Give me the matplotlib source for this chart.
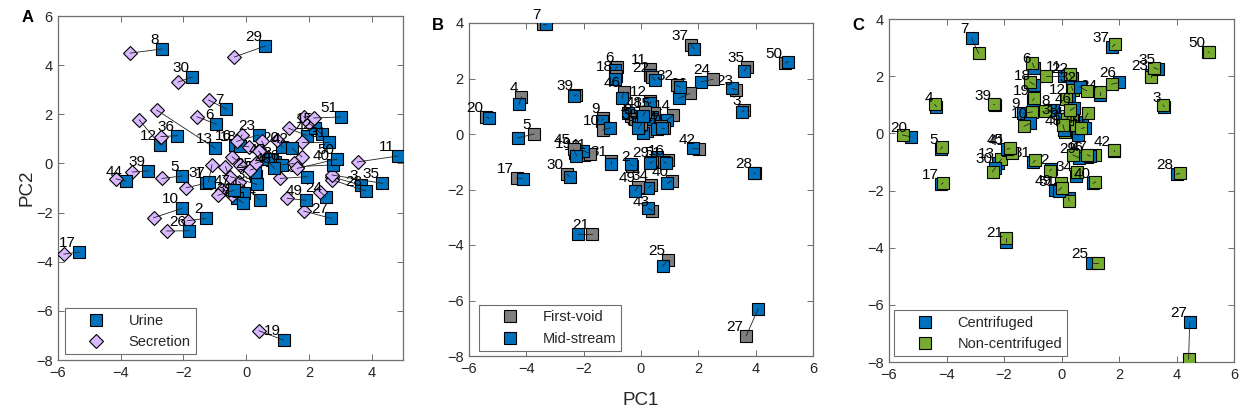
import matplotlib
matplotlib.use("Agg")
import matplotlib.pyplot as plt
from matplotlib.lines import Line2D

plt.rcParams['font.family'] = ['Liberation Sans', 'DejaVu Sans']

sample_ids = list(range(1, 52))

# ---------------- Panel A: Urine vs Secretion ----------------
A_urine_x = [-1.27, -1.28, 3.65, 1.95, -2.04, -0.95, -0.63, -2.68, 0.30, -2.05,
             4.83, -2.74, -0.98, 0.45, 2.21, -0.35, -5.33, -0.20, 1.19, 1.15,
             -0.08, 2.42, 0.40, 2.53, 0.29, -1.81, 2.72, 3.81, 0.61, -1.72,
             2.64, -0.30, 0.33, 1.94, 4.34, -2.19, -1.20, 0.93, -3.12, 2.76,
             0.82, 1.46, -0.10, -3.83, 0.70, 1.15, -0.40, 0.90, 1.90, 2.90, 3.01]
A_urine_y = [-0.80, -2.24, -0.88, 1.12, -0.51, 1.60, 2.21, 4.66, -0.50, -1.83,
             0.30, 0.75, 0.61, -1.49, 1.43, 0.75, -3.61, 0.70, -7.19, 0.68,
             -1.22, 1.19, 1.16, -1.35, -0.40, -2.74, -2.24, -1.12, 4.78, 3.52,
             0.88, -1.40, -0.85, -0.54, -0.81, 1.13, -0.74, 0.07, -0.30, -0.06,
             0.14, 0.61, -1.60, -0.72, 0.20, -0.06, -1.10, -0.20, -1.50, 0.18, 1.89]
A_secr_x = [-1.91, -1.87, 2.74, 1.36, -2.68, -1.57, -1.20, -3.70, -0.45, -2.95,
            3.55, -3.41, -2.85, -0.24, 1.84, -0.13, -5.81, 0.08, 0.41, 0.99,
            -0.77, 2.00, -0.30, 2.35, -0.19, -2.53, 1.84, 2.74, -0.38, -2.17,
            1.78, -0.66, -0.50, 1.09, 2.74, -2.72, -1.09, 0.13, -3.63, 1.62,
            0.50, 1.78, -0.45, -4.15, 0.30, 1.52, -0.90, 0.40, 1.31, 1.63, 2.15]
A_secr_y = [-0.99, -2.33, -0.55, 1.43, -0.61, 1.90, 2.58, 4.49, 0.27, -2.21,
            0.06, 1.77, 2.17, -0.74, 1.90, 1.16, -3.69, 0.68, -6.81, 0.95,
            -1.08, 1.65, 0.90, -1.15, -0.06, -2.75, -1.94, -0.67, 4.33, 3.31,
            0.88, -0.13, -0.54, -0.61, -0.47, 1.09, -0.06, -0.27, -0.35, -0.13,
            0.90, 0.27, -1.29, -0.63, 0.00, 0.00, -1.30, 0.50, -1.42, -0.20, 1.85]

# ---------------- Panel B: First-void vs Mid-stream ----------------
B_first_x = [-0.35, -0.30, 3.60, -4.17, -3.73, -0.85, -3.41, -0.20, -1.32, -1.34,
             0.32, 0.32, -2.00, 1.13, 0.45, 0.95, -4.34, -0.87, -2.30, -5.39,
             -1.71, 0.40, 3.33, 2.51, 0.94, 1.71, 3.67, 3.99, 0.40, -2.59,
             -1.06, 1.25, 0.50, 0.35, 3.70, 0.20, 1.74, 0.00, -2.25, 1.08,
             -1.78, 2.01, 0.40, 0.70, -2.35, -0.61, 0.80, 0.15, -0.10, 5.04, 0.80]
B_first_y = [0.65, -1.15, 0.86, 1.34, 0.00, 2.42, 3.98, 0.55, 0.56, 0.14,
             2.36, 1.20, -0.75, 0.68, 0.75, -0.95, -1.58, 2.08, -0.70, 0.62,
             -3.60, 2.05, 1.60, 1.97, -4.54, 1.46, -7.27, -1.42, -1.00, -1.45,
             -0.96, 1.76, 0.30, -1.84, 2.42, 0.10, 3.20, 0.35, 1.42, -1.68,
             -0.72, -0.54, -2.77, 0.30, -0.55, 1.52, 0.20, 0.80, -1.90, 2.56, -1.00]
B_mid_x = [-0.45, -0.36, 3.52, -4.25, -4.29, -0.91, -3.33, -0.10, -1.37, -1.08,
           0.32, 0.32, -2.25, 0.90, 0.40, 0.57, -4.13, -0.91, -2.20, -5.30,
           -2.20, 0.49, 3.17, 2.10, 0.76, 1.31, 4.09, 3.93, 0.32, -2.48,
           -1.06, 1.37, 0.43, 0.24, 3.60, 0.08, 1.86, -0.09, -2.33, 0.92,
           -2.01, 1.81, 0.26, 0.55, -2.25, -0.65, 0.73, 0.06, -0.21, 5.13, 0.88]
B_mid_y = [0.75, -1.08, 0.80, 1.08, -0.14, 2.30, 3.98, 0.45, 0.47, 0.22,
           2.12, 1.10, -0.72, 0.50, 0.60, -0.84, -1.62, 1.97, -0.62, 0.56,
           -3.60, 1.94, 1.64, 1.88, -4.76, 1.28, -6.30, -1.40, -1.06, -1.54,
           -1.08, 1.68, 0.47, -1.94, 2.27, 0.02, 3.08, 0.20, 1.37, -1.78,
           -0.60, -0.52, -2.68, 0.17, -0.78, 1.30, 0.20, 0.64, -2.04, 2.60, -1.06]

# ---------------- Panel C: Centrifuged vs Non-centrifuged ----------------
C_cent_x = [0.35, -0.35, 3.57, -4.35, -4.20, -0.95, -3.13, -0.30, -1.34, -1.08,
            0.10, 0.25, -2.21, 0.70, 0.50, 0.87, -4.18, -0.95, -1.00, -5.25,
            -1.92, 0.35, 3.13, 1.35, 1.05, 2.00, 4.46, 4.00, 0.60, -2.30,
            -0.99, 0.63, 0.57, 0.50, 3.36, 0.30, 1.77, 0.00, -2.33, 1.10,
            -1.85, 1.82, 0.25, 0.80, -1.90, 0.45, 1.00, 0.10, -0.24, 5.10, -0.10]
C_cent_y = [1.62, -1.25, 0.93, 0.93, -0.55, 2.30, 3.32, 0.80, 0.70, 0.35,
            2.00, 1.20, -1.05, 0.30, 0.40, -0.82, -1.78, 1.70, 1.15, -0.12,
            -3.80, 1.95, 2.04, 1.35, -4.54, 1.78, -6.61, -1.43, -0.85, -1.20,
            -1.02, 1.63, -0.06, -1.50, 2.24, 0.30, 3.03, 0.50, 1.00, -1.75,
            -0.60, -0.62, -2.25, 0.20, -0.55, 0.90, -0.80, 0.10, -1.99, 2.85, -2.00]
C_non_x = [0.40, -0.41, 3.53, -4.41, -4.14, -1.01, -2.88, -0.56, -1.01, -1.30,
           -0.53, 0.17, -2.09, 0.92, 0.40, 1.16, -4.12, -1.10, -0.96, -5.53,
           -1.92, 0.28, 3.13, 1.35, 1.26, 1.74, 4.42, 4.11, 0.40, -2.40,
           -0.91, 0.87, 0.11, 0.55, 3.21, 0.25, 1.86, 0.20, -2.36, 1.18,
           -1.71, 1.82, 0.26, 0.69, -1.80, 0.30, 0.90, 0.05, -0.03, 5.13, 0.00]
C_non_y = [1.50, -1.32, 0.99, 1.01, -0.47, 2.45, 2.80, 0.78, 0.75, 0.25,
           2.00, 1.19, -0.91, 0.70, 0.60, -0.76, -1.73, 1.80, 1.22, -0.06,
           -3.65, 2.08, 1.96, 1.45, -4.54, 1.72, -7.90, -1.40, -0.76, -1.35,
           -0.94, 1.49, 0.05, -1.35, 2.30, 0.29, 3.11, 0.50, 1.01, -1.70,
           -0.70, -0.59, -2.36, 0.17, -0.53, 0.80, -0.75, 0.30, -1.75, 2.83, -1.90]

BLUE = '#0072BD'
GRAY = '#7F7F7F'
LAVENDER = '#D9B8FF'
GREEN = '#77AC30'
FRAME = '#6E6E6E'
TXT = '#262626'
SQ = 8.2
DM = 7.4

fig = plt.figure(figsize=(12.43, 4.17), dpi=100)

axA = fig.add_axes([58/1243, 1-360/417, 345/1243, 344/417])
axB = fig.add_axes([469/1243, 1-356/417, 344/1243, 333/417])
axC = fig.add_axes([889/1243, 1-362/417, 345/1243, 343/417])


def draw_panel(ax, ids, x1, y1, x2, y2, m1, c1, ms1, m2, c2, ms2):
    z = 2
    for i, sid in enumerate(ids):
        ax.plot([x1[i]], [y1[i]], linestyle='none', marker=m1, ms=ms1,
                mfc=c1, mec='k', mew=0.8, zorder=z)
        ax.plot([x2[i]], [y2[i]], linestyle='none', marker=m2, ms=ms2,
                mfc=c2, mec='k', mew=0.8, zorder=z + 0.1)
        ax.plot([x1[i], x2[i]], [y1[i], y2[i]], color='#222222', lw=0.6,
                zorder=z + 0.2)
        ax.annotate(str(sid), (x1[i], y1[i]), xytext=(-3, 5),
                    textcoords='offset pixels', ha='right', va='baseline',
                    fontsize=11, color='k', zorder=z + 0.3)
        z += 0.5


def style_axes(ax, xlim, ylim, xt, yt):
    ax.set_xlim(*xlim)
    ax.set_ylim(*ylim)
    ax.set_xticks(xt)
    ax.set_yticks(yt)
    ax.tick_params(direction='in', top=True, right=True, length=4,
                   width=0.7, color=FRAME, labelsize=10.5, labelcolor=TXT, pad=4)
    for s in ax.spines.values():
        s.set_color(FRAME)
        s.set_linewidth(0.9)


draw_panel(axA, sample_ids, A_urine_x, A_urine_y, A_secr_x, A_secr_y,
           's', BLUE, SQ, 'D', LAVENDER, DM)
draw_panel(axB, sample_ids, B_first_x, B_first_y, B_mid_x, B_mid_y,
           's', GRAY, SQ, 's', BLUE, SQ)
draw_panel(axC, sample_ids, C_cent_x, C_cent_y, C_non_x, C_non_y,
           's', BLUE, SQ, 's', GREEN, SQ)

style_axes(axA, (-6, 5), (-8, 6), [-6, -4, -2, 0, 2, 4], [-8, -6, -4, -2, 0, 2, 4, 6])
style_axes(axB, (-6, 6), (-8, 4), [-6, -4, -2, 0, 2, 4, 6], [-8, -6, -4, -2, 0, 2, 4])
style_axes(axC, (-6, 6), (-8, 4), [-6, -4, -2, 0, 2, 4, 6], [-8, -6, -4, -2, 0, 2, 4])

axA.set_ylabel('PC2', fontsize=13.5, color=TXT, labelpad=0)
axB.set_xlabel('PC1', fontsize=13.5, color=TXT, labelpad=12)


def legend(ax, labels, markers, colors, sizes, anchor):
    handles = [Line2D([], [], linestyle='none', marker=m, ms=s, mfc=c,
                      mec='k', mew=0.8) for m, c, s in zip(markers, colors, sizes)]
    lg = ax.legend(handles, labels, loc='lower left', bbox_to_anchor=anchor,
                   borderaxespad=0, fontsize=10.5, handlelength=3.5,
                   handletextpad=0.5, borderpad=0.36, labelspacing=0.5,
                   fancybox=False, framealpha=1, edgecolor=FRAME)
    lg.get_frame().set_linewidth(0.8)
    for t in lg.get_texts():
        t.set_color(TXT)
    lg.set_zorder(100)


legend(axA, ['Urine', 'Secretion'], ['s', 'D'], [BLUE, LAVENDER], [SQ, DM], (0.02, 0.017))
legend(axB, ['First-void', 'Mid-stream'], ['s', 's'], [GRAY, BLUE], [SQ, SQ], (0.029, 0.015))
legend(axC, ['Centrifuged', 'Non-centrifuged'], ['s', 's'], [BLUE, GREEN], [SQ, SQ], (0.014, 0.017))

fig.text(28/1243, 1-18/417, 'A', fontsize=12, fontweight='bold', ha='center', va='center')
fig.text(438/1243, 1-25/417, 'B', fontsize=12, fontweight='bold', ha='center', va='center')
fig.text(858/1243, 1-25/417, 'C', fontsize=12, fontweight='bold', ha='center', va='center')

fig.savefig('out.png', dpi=100)
